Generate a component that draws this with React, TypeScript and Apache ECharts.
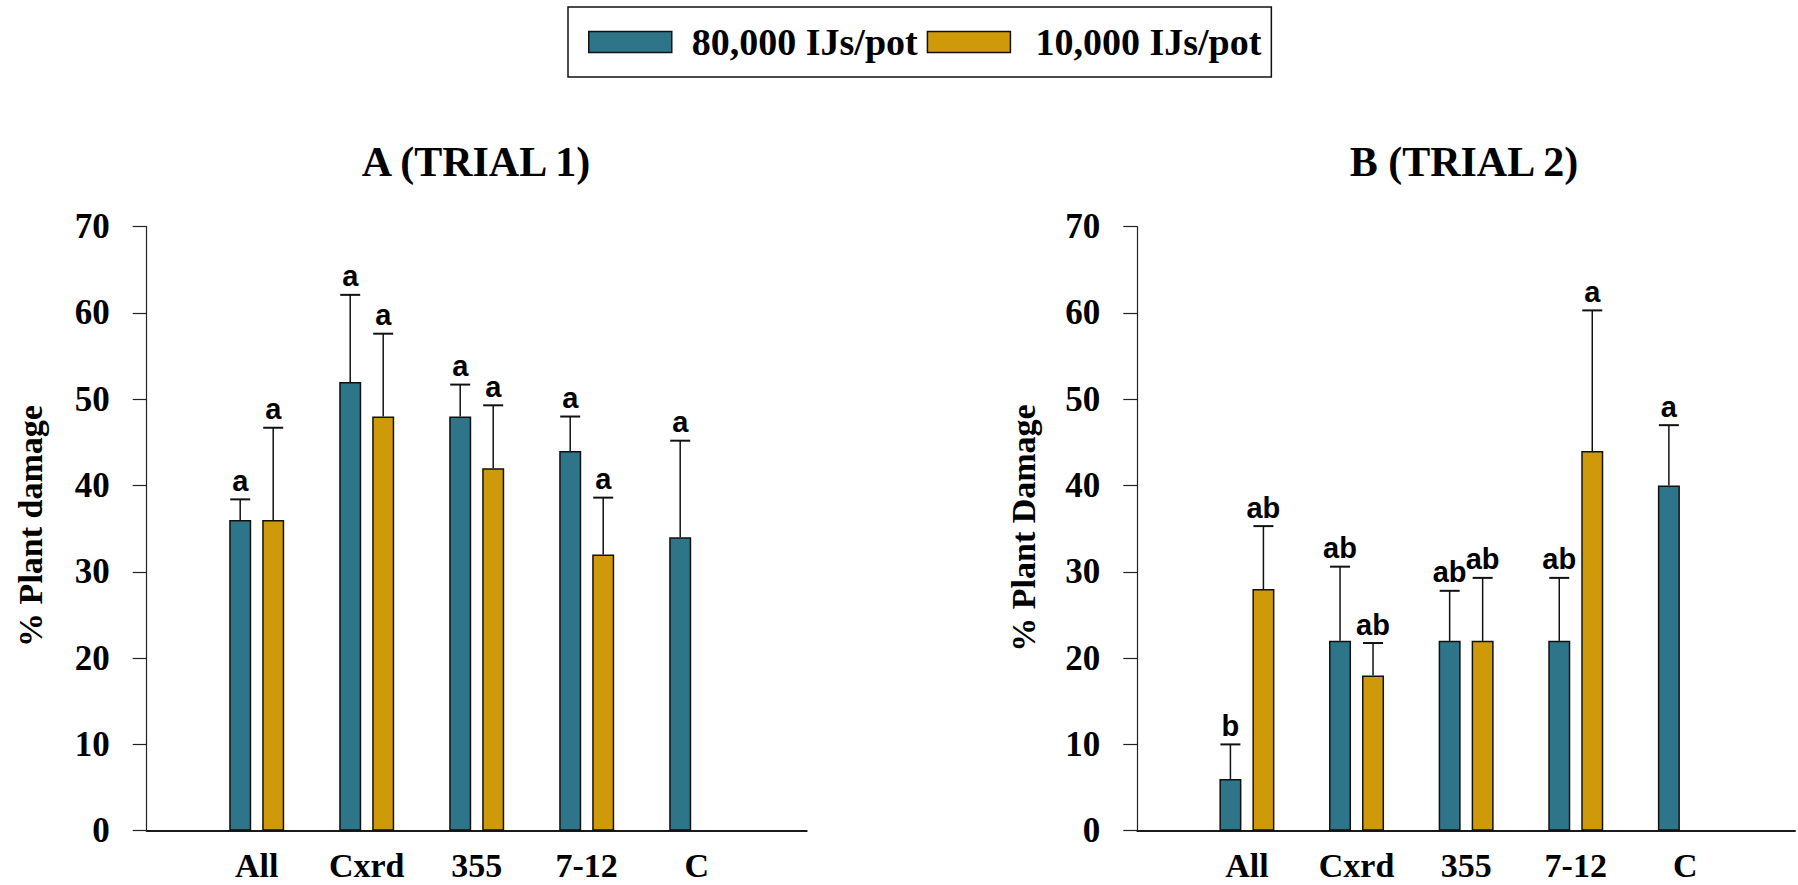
import React, { useEffect, useRef } from "react";
import * as echarts from "echarts";

const categories = ["All", "Cxrd", "355", "7-12", "C"];
const seriesNames = ["80,000 IJs/pot", "10,000 IJs/pot"];

// Trial 1 (panel A)
const t1High = [36, 52, 48, 44, 34];
const t1HighSE = [2.4, 10.1, 3.7, 4.0, 11.2];
const t1HighLetters = ["a", "a", "a", "a", "a"];
const t1Low = [36, 48, 42, 32, null];
const t1LowSE = [10.7, 9.6, 7.3, 6.6, null];
const t1LowLetters = ["a", "a", "a", "a", null];

// Trial 2 (panel B)
const t2High = [6, 22, 22, 22, 40];
const t2HighSE = [4.0, 8.6, 5.8, 7.3, 7.0];
const t2HighLetters = ["b", "ab", "ab", "ab", "a"];
const t2Low = [28, 18, 22, 44, null];
const t2LowSE = [7.3, 3.75, 7.3, 16.3, null];
const t2LowLetters = ["ab", "ab", "ab", "a", null];

const yTicks = { min: 0, max: 70, interval: 10 };

const TEAL = "#2f7589";
const GOLD = "#cf9a09";
const INK = "#111111";
const SERIF = "'Liberation Serif', 'Times New Roman', Times, serif";
const SANS = "'Liberation Sans Narrow', 'Arial Narrow', 'Liberation Sans', Arial, sans-serif";

const BAR_W = 22;
const BAR_GAP = 0.5;
const OFFSET = (BAR_W + BAR_W * BAR_GAP) / 2;

const axisCats = ["", ...categories, ""];

function barData(vals: (number | null)[]) {
  return ["-", ...vals.map((v) => (v == null ? "-" : v)), "-"];
}

function errSeries(g: number, means: (number | null)[], ses: (number | null)[], letters: (string | null)[], sign: number) {
  const data: number[][] = [];
  means.forEach((m, i) => {
    if (m != null && ses[i] != null) data.push([i + 1, m, ses[i] as number, i]);
  });
  return {
    type: "custom",
    xAxisIndex: g,
    yAxisIndex: g,
    silent: true,
    z: 5,
    data,
    renderItem: (params: any, api: any) => {
      const cat = api.value(0);
      const m = api.value(1);
      const se = api.value(2);
      const li = api.value(3);
      const top = api.coord([cat, m + se]);
      const base = api.coord([cat, m]);
      const x = top[0] + sign * OFFSET;
      return {
        type: "group",
        children: [
          { type: "line", shape: { x1: x, y1: base[1], x2: x, y2: top[1] }, style: { stroke: INK, lineWidth: 1.5 } },
          { type: "line", shape: { x1: x - 10, y1: top[1], x2: x + 10, y2: top[1] }, style: { stroke: INK, lineWidth: 2 } },
          {
            type: "text",
            x: x,
            y: top[1] - 4,
            style: {
              text: letters[li] || "",
              align: "center",
              verticalAlign: "bottom",
              textAlign: "center",
              textVerticalAlign: "bottom",
              fontFamily: SANS,
              fontWeight: "bold",
              fontSize: 29,
              fill: "#000",
            },
          },
        ],
      };
    },
  };
}

function barSeries(g: number, name: string, vals: (number | null)[], color: string) {
  return {
    type: "bar",
    name,
    xAxisIndex: g,
    yAxisIndex: g,
    barWidth: BAR_W,
    barGap: `${BAR_GAP * 100}%`,
    data: barData(vals),
    itemStyle: { color, borderColor: INK, borderWidth: 1.5 },
  };
}

function makeXAxis(g: number) {
  return {
    type: "category",
    gridIndex: g,
    data: axisCats,
    boundaryGap: false,
    axisLine: { show: true, lineStyle: { color: "#1a1a1a", width: 2 } },
    axisTick: { show: false },
    axisLabel: {
      interval: 0,
      margin: 18,
      fontFamily: SERIF,
      fontWeight: "bold",
      fontSize: 34,
      color: "#000",
    },
    splitLine: { show: false },
  };
}

function makeYAxis(g: number) {
  return {
    type: "value",
    gridIndex: g,
    min: yTicks.min,
    max: yTicks.max,
    interval: yTicks.interval,
    axisLine: { show: true, lineStyle: { color: "#222", width: 1.2 } },
    axisTick: { show: true, length: 14, lineStyle: { color: "#222", width: 1.2 } },
    axisLabel: {
      margin: 37,
      fontFamily: SERIF,
      fontWeight: "bold",
      fontSize: 35,
      color: "#000",
    },
    splitLine: { show: false },
  };
}

export default function App() {
  const ref = useRef<HTMLDivElement>(null);
  useEffect(() => {
    if (!ref.current) return;
    const chart = echarts.init(ref.current, null, { renderer: "svg" });
    const textBase = { fontFamily: SERIF, fontWeight: "bold", fill: "#000" };
    const legendText = { fontFamily: SERIF, fontWeight: "bold", fontSize: 38, color: "#000" };
    chart.setOption({
      animation: false,
      backgroundColor: "#fff",
      legend: {
        data: [
          { name: seriesNames[0], textStyle: { ...legendText, padding: [0, 0, 0, 15] } },
          { name: seriesNames[1], textStyle: { ...legendText, padding: [0, 0, 0, 20] } },
        ],
        left: 568,
        top: 7,
        padding: [16, 10, 16, 20],
        itemWidth: 83,
        itemHeight: 21,
        itemGap: 9,
        borderColor: INK,
        borderWidth: 1.5,
        icon: "rect",
        itemStyle: { borderColor: INK, borderWidth: 1.5 },
        textStyle: legendText,
      },
      grid: [
        { left: 146.7, top: 226.7, width: 660, height: 604 },
        { left: 1137.3, top: 226.7, width: 660, height: 604 },
      ],
      xAxis: [makeXAxis(0), makeXAxis(1)],
      yAxis: [makeYAxis(0), makeYAxis(1)],
      graphic: [
        {
          type: "text",
          x: 476,
          y: 162,
          style: { ...textBase, text: "A (TRIAL 1)", fontSize: 42, align: "center", verticalAlign: "middle", textAlign: "center", textVerticalAlign: "middle" },
        },
        {
          type: "text",
          x: 1464,
          y: 162,
          style: { ...textBase, text: "B (TRIAL 2)", fontSize: 42, align: "center", verticalAlign: "middle", textAlign: "center", textVerticalAlign: "middle" },
        },
        {
          type: "text",
          x: 30,
          y: 526,
          rotation: Math.PI / 2,
          style: { ...textBase, text: "% Plant damage", fontSize: 34, align: "center", verticalAlign: "middle", textAlign: "center", textVerticalAlign: "middle" },
        },
        {
          type: "text",
          x: 1023,
          y: 528,
          rotation: Math.PI / 2,
          style: { ...textBase, text: "% Plant Damage", fontSize: 34, align: "center", verticalAlign: "middle", textAlign: "center", textVerticalAlign: "middle" },
        },
      ],
      series: [
        barSeries(0, seriesNames[0], t1High, TEAL),
        barSeries(0, seriesNames[1], t1Low, GOLD),
        barSeries(1, seriesNames[0], t2High, TEAL),
        barSeries(1, seriesNames[1], t2Low, GOLD),
        errSeries(0, t1High, t1HighSE, t1HighLetters, -1),
        errSeries(0, t1Low, t1LowSE, t1LowLetters, 1),
        errSeries(1, t2High, t2HighSE, t2HighLetters, -1),
        errSeries(1, t2Low, t2LowSE, t2LowLetters, 1),
      ],
    });
    return () => chart.dispose();
  }, []);
  return (
    <div
      ref={ref}
      style={{ position: "fixed", left: 0, top: 0, width: 1798, height: 885, background: "#fff" }}
    />
  );
}
